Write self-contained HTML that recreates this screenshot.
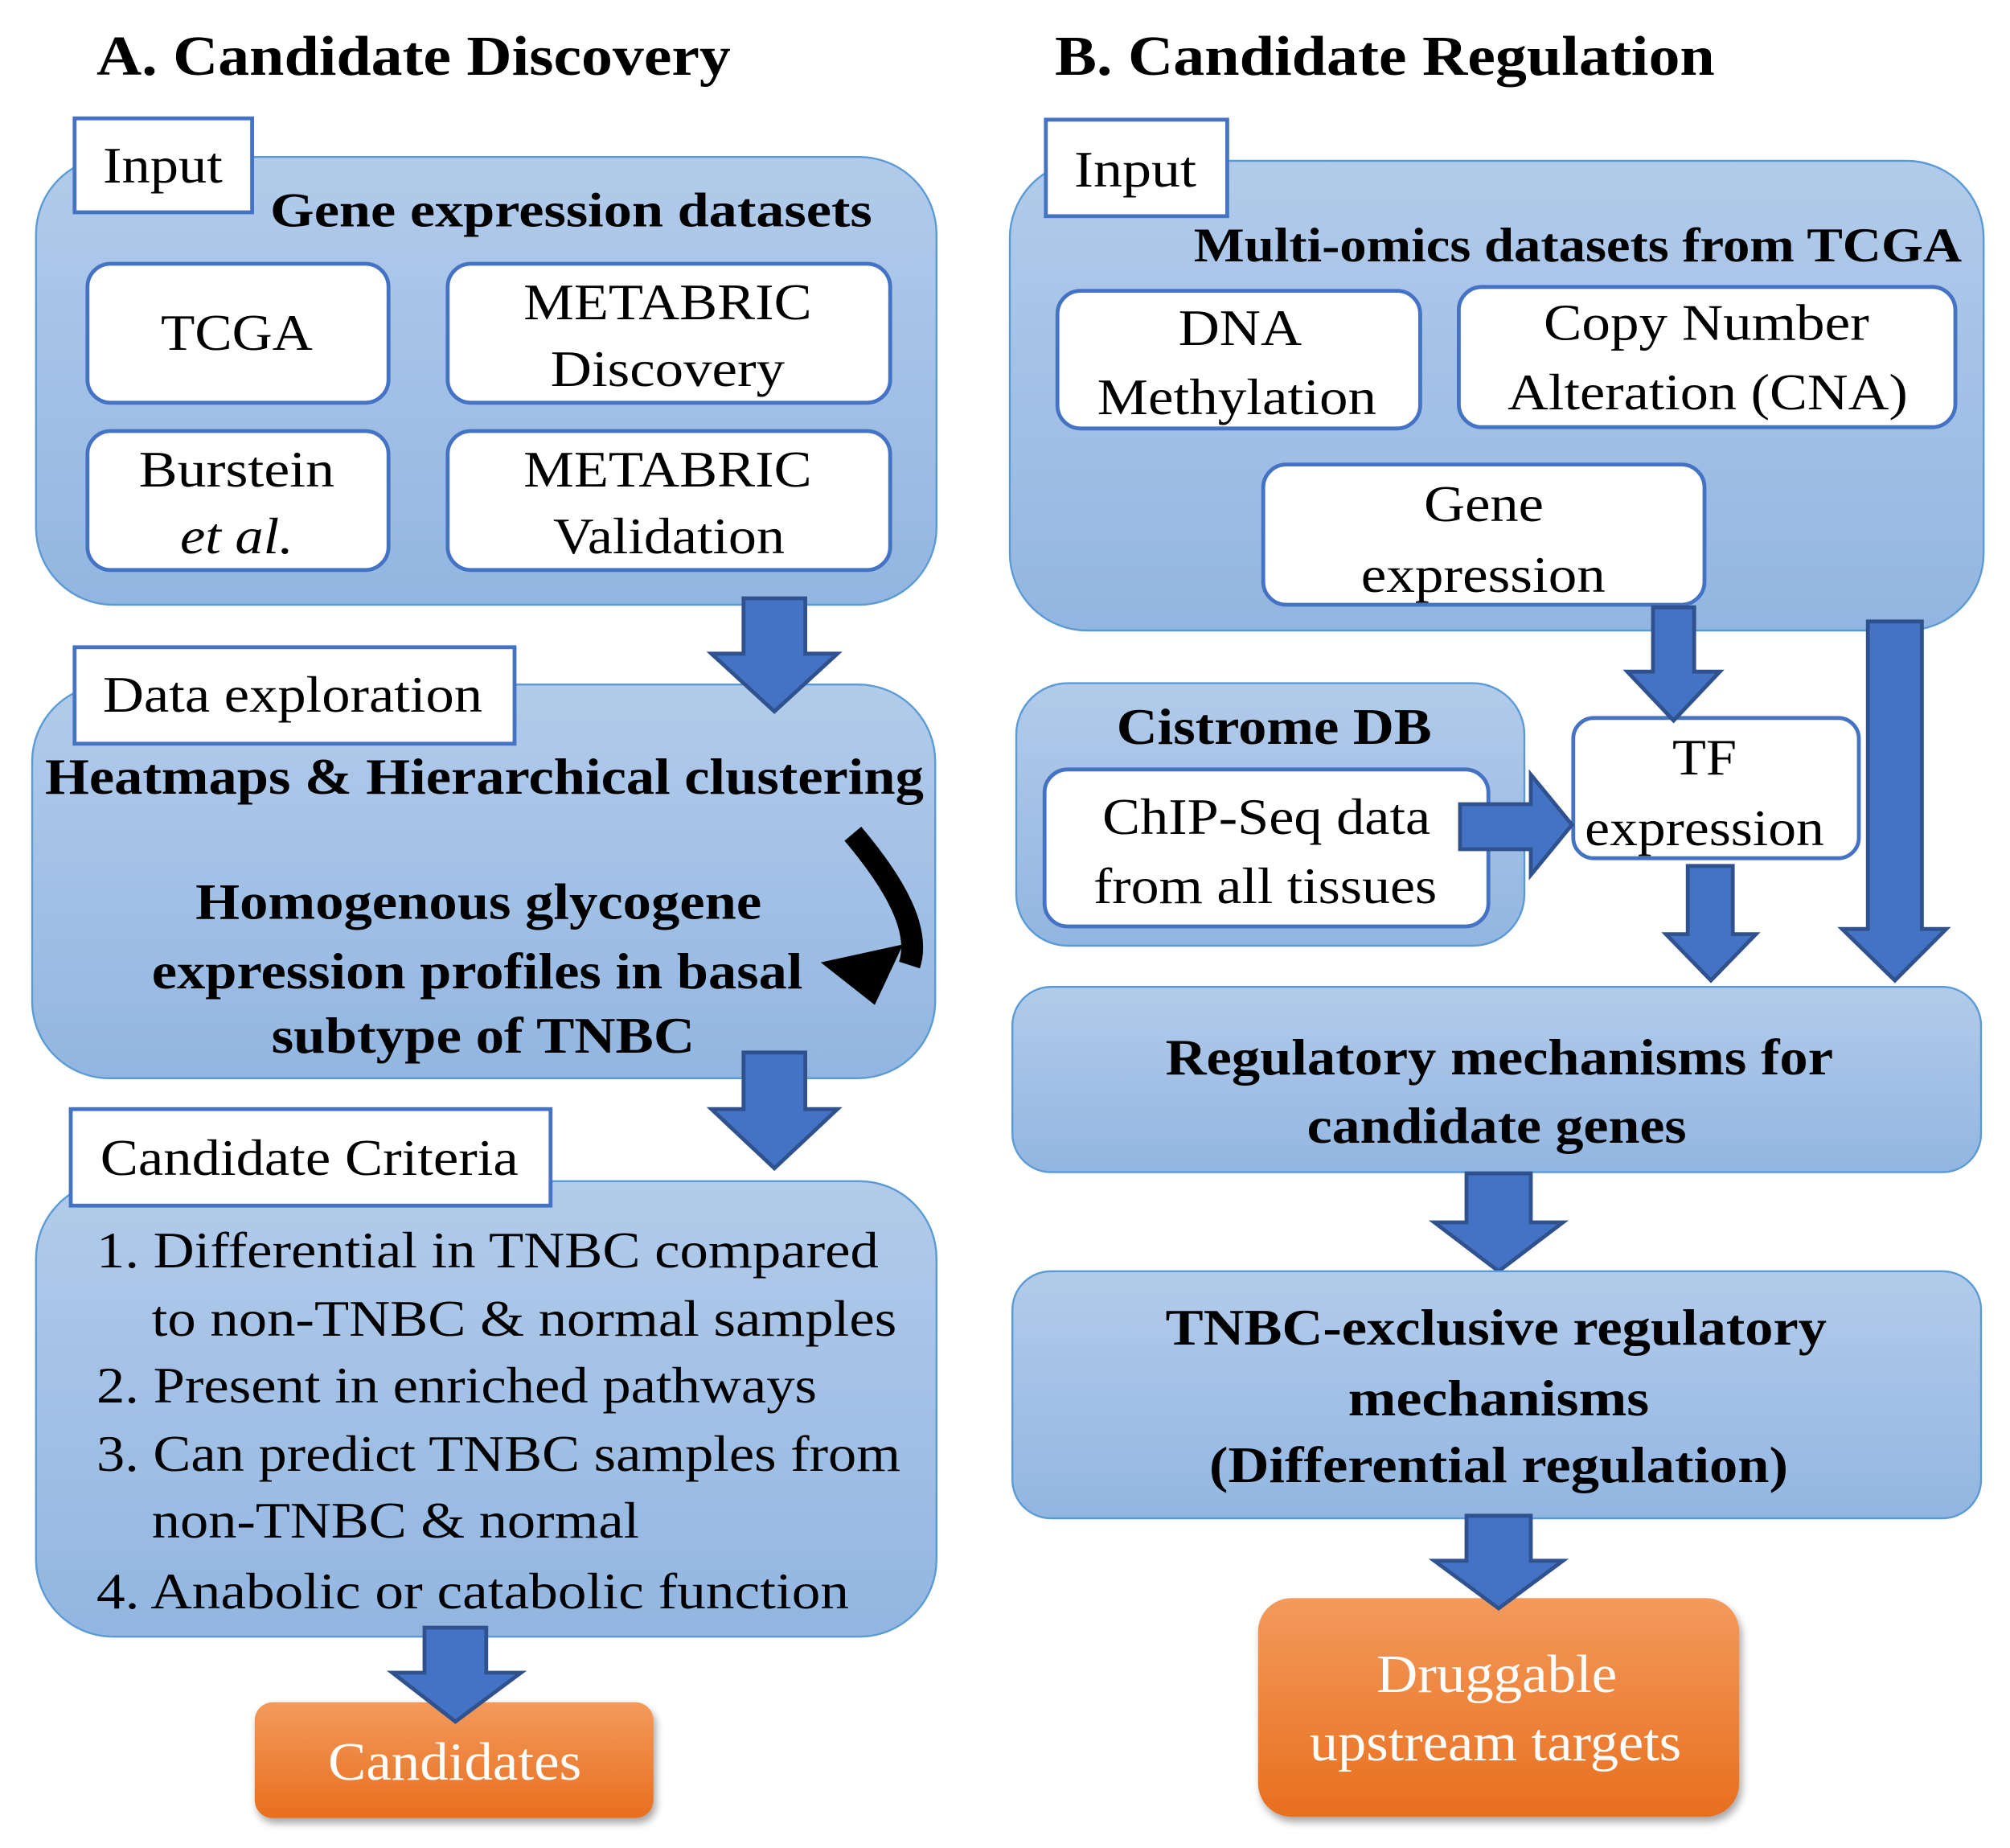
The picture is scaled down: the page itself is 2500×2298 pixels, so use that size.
<!DOCTYPE html>
<html><head><meta charset="utf-8"><style>
html,body{margin:0;padding:0;background:#fff;}
svg{display:block;}
text{font-family:"Liberation Serif",serif;fill:#000;}
.b{font-weight:bold;}
</style></head><body>
<svg width="2500" height="2298" viewBox="0 0 1562.5 1436.25" xmlns="http://www.w3.org/2000/svg">
<defs>
<linearGradient id="bg" x1="0" y1="0" x2="0" y2="1"><stop offset="0" stop-color="#b2cbea"/><stop offset="1" stop-color="#92b6e1"/></linearGradient>
<linearGradient id="og" x1="0" y1="0" x2="0" y2="1"><stop offset="0" stop-color="#f39a5c"/><stop offset="1" stop-color="#e86f1e"/></linearGradient>
<filter id="sh" x="-10%" y="-10%" width="120%" height="130%"><feDropShadow dx="2" dy="4" stdDeviation="3" flood-color="#000" flood-opacity="0.35"/></filter>
</defs>
<g font-size="44" lengthAdjust="spacingAndGlyphs">
<text class="b" x="75" y="58" textLength="493" lengthAdjust="spacingAndGlyphs">A. Candidate Discovery</text>
<text class="b" x="820" y="58" textLength="513" lengthAdjust="spacingAndGlyphs">B. Candidate Regulation</text></g>

<!-- Panel A1 -->
<rect x="28" y="122" width="700" height="348" rx="60" fill="url(#bg)" stroke="#5b9bd5" stroke-width="1.5"/>
<rect x="58" y="92" width="138" height="73" fill="#fff" stroke="#4472c4" stroke-width="3"/>
<text x="80" y="142" font-size="40" textLength="93" lengthAdjust="spacingAndGlyphs">Input</text>
<text class="b" x="210" y="176" font-size="38" textLength="468" lengthAdjust="spacingAndGlyphs">Gene expression datasets</text>
<g fill="#fff" stroke="#4472c4" stroke-width="3">
<rect x="68" y="205" width="234" height="108" rx="18"/><rect x="348" y="205" width="344" height="108" rx="18"/>
<rect x="68" y="335" width="234" height="108" rx="18"/><rect x="348" y="335" width="344" height="108" rx="18"/></g>
<g font-size="40">
<text x="125" y="272" textLength="118" lengthAdjust="spacingAndGlyphs">TCGA</text>
<text x="407" y="248" textLength="224" lengthAdjust="spacingAndGlyphs">METABRIC</text>
<text x="428" y="300" textLength="182" lengthAdjust="spacingAndGlyphs">Discovery</text>
<text x="108" y="378" textLength="152" lengthAdjust="spacingAndGlyphs">Burstein</text>
<text x="140" y="430" font-style="italic" textLength="88" lengthAdjust="spacingAndGlyphs">et al.</text>
<text x="407" y="378" textLength="224" lengthAdjust="spacingAndGlyphs">METABRIC</text>
<text x="430" y="430" textLength="180" lengthAdjust="spacingAndGlyphs">Validation</text></g>

<!-- Panel A2 -->
<rect x="25" y="532" width="702" height="306" rx="60" fill="url(#bg)" stroke="#5b9bd5" stroke-width="1.5"/>
<g fill="#4472c4" stroke="#2f528f" stroke-width="3">
<polygon points="578,465 626,465 626,508 651,508 602,553 553,508 578,508"/>
<polygon points="578,818 626,818 626,862 651,862 602,908 553,862 578,862"/></g>
<rect x="58" y="503" width="342" height="75" fill="#fff" stroke="#4472c4" stroke-width="3"/>
<text x="80" y="553" font-size="40" textLength="295" lengthAdjust="spacingAndGlyphs">Data exploration</text>
<text class="b" x="35" y="617" font-size="40" textLength="683" lengthAdjust="spacingAndGlyphs">Heatmaps &amp; Hierarchical clustering</text>
<g font-size="40">
<text class="b" x="152" y="714" textLength="440" lengthAdjust="spacingAndGlyphs">Homogenous glycogene</text>
<text class="b" x="118" y="768" textLength="506" lengthAdjust="spacingAndGlyphs">expression profiles in basal</text>
<text class="b" x="211" y="818" textLength="329" lengthAdjust="spacingAndGlyphs">subtype of TNBC</text></g>
<path d="M663,648 C695,686 716,722 707,750" fill="none" stroke="#000" stroke-width="17"/>
<polygon points="638,748 702,734 680,781" fill="#000"/>

<!-- Panel A3 -->
<rect x="28" y="918" width="700" height="354" rx="60" fill="url(#bg)" stroke="#5b9bd5" stroke-width="1.5"/>
<rect x="55" y="862" width="373" height="75" fill="#fff" stroke="#4472c4" stroke-width="3"/>
<text x="78" y="913" font-size="40" textLength="325" lengthAdjust="spacingAndGlyphs">Candidate Criteria</text>
<g font-size="40">
<text x="75" y="985" textLength="608" lengthAdjust="spacingAndGlyphs">1. Differential in TNBC compared</text>
<text x="118" y="1038" textLength="579" lengthAdjust="spacingAndGlyphs">to non-TNBC &amp; normal samples</text>
<text x="75" y="1090" textLength="560" lengthAdjust="spacingAndGlyphs">2. Present in enriched pathways</text>
<text x="75" y="1143" textLength="625" lengthAdjust="spacingAndGlyphs">3. Can predict TNBC samples from</text>
<text x="118" y="1195" textLength="379" lengthAdjust="spacingAndGlyphs">non-TNBC &amp; normal</text>
<text x="75" y="1250" textLength="585" lengthAdjust="spacingAndGlyphs">4. Anabolic or catabolic function</text></g>

<rect x="198" y="1323" width="310" height="90" rx="14" fill="url(#og)" filter="url(#sh)"/>
<text x="255" y="1383" font-size="42" textLength="197" lengthAdjust="spacingAndGlyphs" style="fill:#fff">Candidates</text>
<g fill="#4472c4" stroke="#2f528f" stroke-width="3"><polygon points="330,1265 378,1265 378,1300 405,1300 354,1338 305,1300 330,1300"/></g>

<!-- Panel B1 -->
<rect x="785" y="125" width="757" height="365" rx="60" fill="url(#bg)" stroke="#5b9bd5" stroke-width="1.5"/>
<rect x="813" y="93" width="141" height="75" fill="#fff" stroke="#4472c4" stroke-width="3"/>
<text x="835" y="145" font-size="40" textLength="95" lengthAdjust="spacingAndGlyphs">Input</text>
<text class="b" x="928" y="203" font-size="38" textLength="597" lengthAdjust="spacingAndGlyphs">Multi-omics datasets from TCGA</text>
<g fill="#fff" stroke="#4472c4" stroke-width="3">
<rect x="822" y="226" width="282" height="107" rx="18"/><rect x="1134" y="223" width="386" height="109" rx="18"/>
<rect x="982" y="361" width="343" height="109" rx="18"/></g>
<g font-size="40">
<text x="916" y="268" textLength="96" lengthAdjust="spacingAndGlyphs">DNA</text>
<text x="853" y="322" textLength="217" lengthAdjust="spacingAndGlyphs">Methylation</text>
<text x="1200" y="264" textLength="253" lengthAdjust="spacingAndGlyphs">Copy Number</text>
<text x="1172" y="318" textLength="311" lengthAdjust="spacingAndGlyphs">Alteration (CNA)</text>
<text x="1107" y="405" textLength="93" lengthAdjust="spacingAndGlyphs">Gene</text>
<text x="1058" y="460" textLength="190" lengthAdjust="spacingAndGlyphs">expression</text></g>

<!-- Cistrome -->
<rect x="790" y="531" width="395" height="204" rx="40" fill="url(#bg)" stroke="#5b9bd5" stroke-width="1.5"/>
<text class="b" x="868" y="578" font-size="40" textLength="245" lengthAdjust="spacingAndGlyphs">Cistrome DB</text>
<rect x="812" y="598" width="345" height="122" rx="18" fill="#fff" stroke="#4472c4" stroke-width="3"/>
<g font-size="40">
<text x="857" y="648" textLength="255" lengthAdjust="spacingAndGlyphs">ChIP-Seq data</text>
<text x="850" y="702" textLength="267" lengthAdjust="spacingAndGlyphs">from all tissues</text></g>
<rect x="1223" y="558" width="222" height="109" rx="16" fill="#fff" stroke="#4472c4" stroke-width="3"/>
<g font-size="40">
<text x="1300" y="602" textLength="50" lengthAdjust="spacingAndGlyphs">TF</text>
<text x="1232" y="657" textLength="186" lengthAdjust="spacingAndGlyphs">expression</text></g>

<!-- B arrows -->
<g fill="#4472c4" stroke="#2f528f" stroke-width="3">
<polygon points="1285,472 1317,472 1317,522 1337,522 1301,560 1265,522 1285,522"/>
<polygon points="1452,483 1494,483 1494,722 1513,722 1473,762 1432,722 1452,722"/>
<polygon points="1135,625 1190,625 1190,602 1222,641 1190,680 1190,660 1135,660"/>
<polygon points="1312,673 1347,673 1347,726 1365,726 1330,762 1295,726 1312,726"/>
</g>

<rect x="787" y="767" width="753" height="144" rx="30" fill="url(#bg)" stroke="#5b9bd5" stroke-width="1.5"/>
<g font-size="40">
<text class="b" x="906" y="835" textLength="519" lengthAdjust="spacingAndGlyphs">Regulatory mechanisms for</text>
<text class="b" x="1016" y="888" textLength="295" lengthAdjust="spacingAndGlyphs">candidate genes</text></g>
<g fill="#4472c4" stroke="#2f528f" stroke-width="3"><polygon points="1140,912 1190,912 1190,950 1215,950 1165,988 1115,950 1140,950"/></g>

<rect x="787" y="988" width="753" height="192" rx="30" fill="url(#bg)" stroke="#5b9bd5" stroke-width="1.5"/>
<g font-size="40">
<text class="b" x="906" y="1045" textLength="514" lengthAdjust="spacingAndGlyphs">TNBC-exclusive regulatory</text>
<text class="b" x="1048" y="1100" textLength="234" lengthAdjust="spacingAndGlyphs">mechanisms</text>
<text class="b" x="940" y="1152" textLength="450" lengthAdjust="spacingAndGlyphs">(Differential regulation)</text></g>

<rect x="978" y="1242" width="374" height="170" rx="26" fill="url(#og)" filter="url(#sh)"/>
<g font-size="42">
<text x="1070" y="1315" textLength="187" lengthAdjust="spacingAndGlyphs" style="fill:#fff">Druggable</text>
<text x="1018" y="1368" textLength="289" lengthAdjust="spacingAndGlyphs" style="fill:#fff">upstream targets</text></g>
<g fill="#4472c4" stroke="#2f528f" stroke-width="3"><polygon points="1140,1178 1190,1178 1190,1213 1215,1213 1165,1250 1115,1213 1140,1213"/></g>
</svg>
</body></html>
